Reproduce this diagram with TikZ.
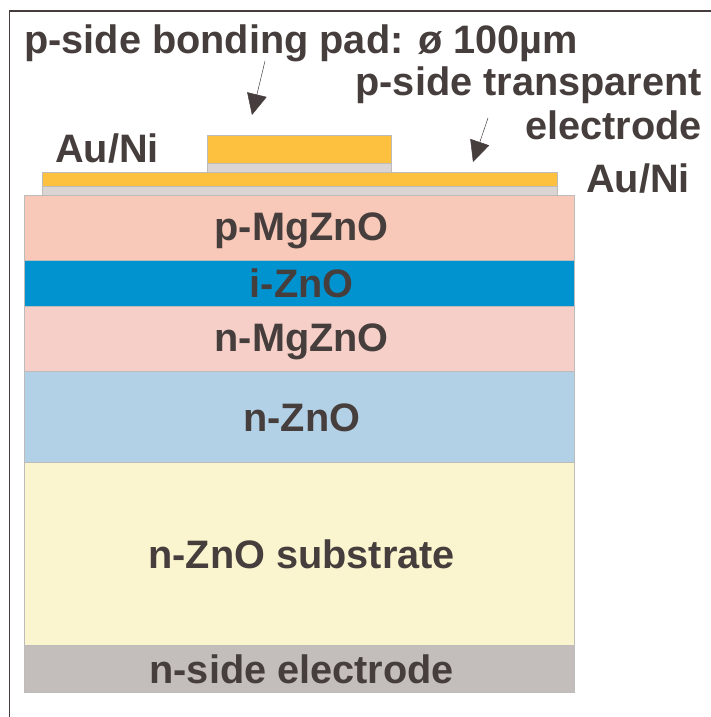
\documentclass[tikz,border=0pt]{standalone}
\usepackage{fontspec}
\setmainfont{Liberation Sans}
\usetikzlibrary{arrows.meta,positioning}
\definecolor{LedInk}{HTML}{463E3C}
\definecolor{LedGold}{HTML}{FDC13F}
\definecolor{LedGrey}{HTML}{DAD5D3}
\definecolor{LedPeach}{HTML}{F8C8B8}
\definecolor{LedBlue}{HTML}{0093D0}
\definecolor{LedPink}{HTML}{F6CFC8}
\definecolor{LedSky}{HTML}{B3D1E6}
\definecolor{LedCream}{HTML}{FBF5CF}
\definecolor{LedBase}{HTML}{C3BDBB}
\begin{document}
\begin{tikzpicture}[x=1pt,y=-1pt,node distance=0pt]
\tikzset{l/.style={draw=LedInk!35,line width=.5pt,minimum width=550.5pt,inner sep=0pt,outer sep=0pt,text=LedInk,text height=36pt,text depth=7pt,execute at begin node=\hspace*{5pt},font=\fontsize{39.7}{44}\bfseries\selectfont},m/.style={draw=LedInk!35,line width=.5pt,inner sep=0pt,outer sep=0pt},t/.style={text=LedInk,inner sep=0pt,align=right,font=\fontsize{39.7}{44}\bfseries\selectfont},a/.style={-{Triangle[length=21pt,width=20pt]},LedInk,line width=.5pt}}
\useasboundingbox (0,0) rectangle (711,717);
\draw[LedInk,line width=1.5pt] (9.5,717) -- (9.5,11) -- (711,11);
\node[l,fill=LedPeach,minimum height=65pt,text depth=11pt,anchor=north west] (pm) at (24,195) {p-MgZnO};
\node[l,fill=LedBlue,minimum height=46pt,below=of pm] (iz) {i-ZnO};
\node[l,fill=LedPink,minimum height=65pt,text depth=11pt,below=of iz] (nm) {n-MgZnO};
\node[l,fill=LedSky,minimum height=91pt,below=of nm] (nz) {n-ZnO};
\node[l,fill=LedCream,minimum height=183pt,below=of nz] (sb) {n-ZnO substrate};
\node[l,fill=LedBase,minimum height=47pt,below=of sb] (ne) {n-side electrode};
\node[m,fill=LedGrey,minimum width=515pt,minimum height=9pt,anchor=south west] (tn) at (42,195) {};
\node[m,fill=LedGold,minimum width=515pt,minimum height=14pt,above=of tn] (ta) {};
\node[m,fill=LedGrey,minimum width=184pt,minimum height=9pt,anchor=south west] (pn) at (207,172) {};
\node[m,fill=LedGold,minimum width=184pt,minimum height=28pt,above=of pn] (pa) {};
\node[t,anchor=base west] (lb) at (24,53) {p-side bonding pad: ø 100µm};
\node[t,anchor=base east] (lt) at (702,95) {p-side transparent};
\node[t,anchor=base east] (le) at (702,139) {electrode};
\node[t,anchor=base west] (ll) at (55,162) {Au/Ni};
\node[t,anchor=base west] (lr) at (586,192) {Au/Ni};
\coordinate (b1) at (265,61);
\coordinate (b2) at (252,115);
\coordinate (t1) at (488,118);
\coordinate (t2) at (473,162);
\draw[a](b1)--(b2);\draw[a](t1)--(t2);
\end{tikzpicture}
\end{document}
